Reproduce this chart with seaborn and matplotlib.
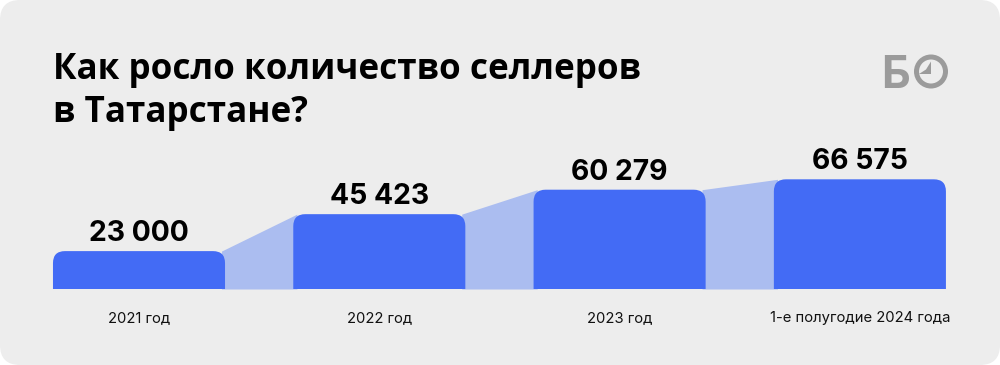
import matplotlib
matplotlib.use("Agg")
import matplotlib.pyplot as plt
import seaborn as sns
import pandas as pd
from matplotlib.patches import FancyBboxPatch, Circle, Polygon

categories = ["2021 год", "2022 год", "2023 год", "1-е полугодие 2024 года"]
values = [23000, 45423, 60279, 66575]
value_labels = ["23 000", "45 423", "60 279", "66 575"]
title_lines = ["Как росло количество селлеров", "в Татарстане?"]

BG = "#ededed"
BAR = "#436bf5"
LINK = "#abbdf0"

sns.set_theme(style="white")
plt.rcParams["font.family"] = ["Inter", "DejaVu Sans"]

W, H, DPI = 1000, 365, 100
fig = plt.figure(figsize=(W / DPI, H / DPI), dpi=DPI)
fig.patch.set_facecolor("white")

card = FancyBboxPatch((0, 0), W, H, boxstyle="round,pad=0,rounding_size=20",
                      transform=None, facecolor=BG, edgecolor="none", zorder=-10)
fig.patches.append(card)

base_px = 289
top_px = 139
ax = fig.add_axes([0, (H - base_px) / H, 1, (base_px - top_px) / H])
ax.set_facecolor("none")

df = pd.DataFrame({"cat": categories, "val": values})
sns.barplot(data=df, x="cat", y="val", color=BAR, width=0.716, ax=ax,
            saturation=1, zorder=3)

span = W / 240.3
x0 = -139 / 240.3
ax.set_xlim(x0, x0 + span)
ymax = (base_px - top_px) * 607
ax.set_ylim(0, ymax)

ux = span / W
uy = ymax / (base_px - top_px)
r_px = 12

bars = list(ax.patches)
geo = []
for b in bars:
    x, w, h = b.get_x(), b.get_width(), b.get_height()
    geo.append((x, w, h))
    b.set_visible(False)
    rb = FancyBboxPatch((x, -r_px * uy * 2), w, h + r_px * uy * 2,
                        boxstyle=f"round,pad=0,rounding_size={r_px * ux}",
                        mutation_aspect=uy / ux, facecolor=BAR,
                        edgecolor="none", zorder=3)
    ax.add_patch(rb)

for (xa, wa, ha), (xb, wb, hb) in zip(geo[:-1], geo[1:]):
    xs = [xa + wa - r_px * ux * 0.3, xb + r_px * ux * 0.3]
    ax.fill_between(xs, [ha, hb], 0, color=LINK, lw=0, zorder=2)

for (x, w, h), lab in zip(geo, value_labels):
    ax.text(x + w / 2, h + 10 * uy, lab, ha="center", va="baseline",
            fontsize=20.4, fontweight="bold", color="black")

ax.set_xlabel("")
ax.set_ylabel("")
ax.set_yticks([])
ax.tick_params(axis="x", length=0, pad=16, labelsize=10.7, labelcolor="#111111")
for s in ax.spines.values():
    s.set_visible(False)

for line, base in zip(title_lines, [79, 122]):
    fig.text(53 / W, 1 - base / H, line, ha="left", va="baseline",
             fontsize=25.2, fontweight="bold", color="black",
             family=["Open Sans", "DejaVu Sans"])

GRAY = "#9b9b9b"
fig.text(881 / W, 1 - 88 / H, "Б", ha="left", va="baseline", fontsize=32,
         fontweight="bold", color=GRAY)
cx, cy = 931, H - 71.5
fig.patches.append(Circle((cx, cy), 14.5, transform=None, facecolor="none",
                          edgecolor=GRAY, lw=3.6))
fig.patches.append(Polygon([(cx, cy + 10), (cx, cy - 2.5), (cx - 12, cy - 2.5),
                            (cx - 5, cy + 2)], closed=True, transform=None,
                           facecolor=GRAY, edgecolor="none"))

fig.savefig("out.png", dpi=DPI, facecolor="white")
